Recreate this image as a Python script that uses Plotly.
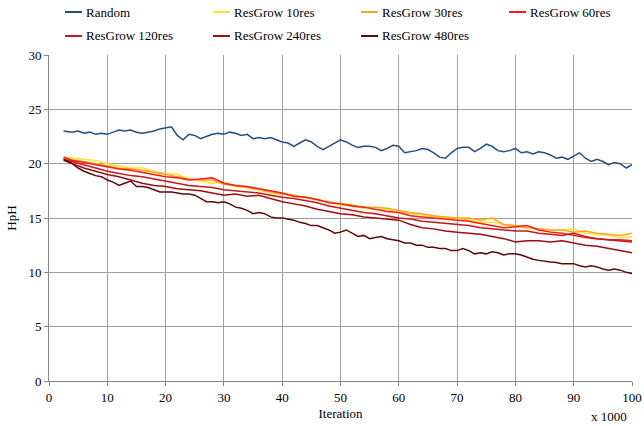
import plotly.graph_objects as go

# ---- data ----
fine_x = [2.5] + list(range(4, 101))          # iterations (x1000), 1k steps
coarse_x = [2.5] + list(range(4, 101, 2))     # iterations (x1000), 2k steps

random_y = [23.0, 22.9, 23.0, 22.8, 22.9, 22.7, 22.8, 22.7, 22.9, 23.1, 23.0, 23.1, 22.9, 22.8,
            22.9, 23.0, 23.2, 23.3, 23.4, 22.6, 22.2, 22.7, 22.6, 22.3, 22.5, 22.7, 22.8, 22.7,
            22.9, 22.8, 22.6, 22.7, 22.3, 22.4, 22.3, 22.4, 22.2, 22.0, 21.9, 21.6, 21.9, 22.2,
            22.0, 21.6, 21.3, 21.6, 21.9, 22.2, 22.0, 21.7, 21.5, 21.6, 21.6, 21.5, 21.2, 21.4,
            21.7, 21.6, 21.0, 21.1, 21.2, 21.4, 21.3, 21.0, 20.6, 20.5, 21.0, 21.4, 21.5, 21.5,
            21.1, 21.4, 21.8, 21.6, 21.2, 21.1, 21.2, 21.4, 21.0, 21.1, 20.9, 21.1, 21.0, 20.8,
            20.5, 20.6, 20.4, 20.7, 21.0, 20.5, 20.2, 20.4, 20.2, 19.9, 20.1, 20.0, 19.6, 19.9]

res480 = [20.4, 20.0, 19.6, 19.3, 19.1, 18.9, 18.8, 18.5, 18.3, 18.0, 18.2, 18.4, 17.9, 17.9,
          17.8, 17.6, 17.4, 17.4, 17.4, 17.3, 17.2, 17.2, 17.1, 16.8, 16.5, 16.5, 16.4, 16.5,
          16.3, 16.0, 15.9, 15.7, 15.4, 15.5, 15.4, 15.1, 15.0, 15.0, 14.9, 14.8, 14.6, 14.5,
          14.3, 14.3, 14.1, 13.9, 13.6, 13.7, 13.9, 13.6, 13.3, 13.4, 13.1, 13.2, 13.3, 13.1,
          13.0, 12.9, 12.7, 12.7, 12.5, 12.5, 12.3, 12.3, 12.2, 12.2, 12.0, 12.0, 12.2, 12.0,
          11.7, 11.8, 11.7, 11.9, 11.8, 11.6, 11.7, 11.7, 11.6, 11.4, 11.2, 11.1, 11.0, 10.95,
          10.9, 10.8, 10.8, 10.8, 10.6, 10.5, 10.6, 10.5, 10.3, 10.2, 10.3, 10.2, 10.0, 9.9]

res10 = [20.6, 20.5, 20.4, 20.3, 20.0, 19.8, 19.6, 19.6, 19.3, 19.1, 19.0, 18.6, 18.4, 18.2,
         18.3, 17.9, 17.8, 17.6, 17.3, 17.2, 17.0, 16.9, 16.6, 16.5, 16.2, 16.1, 15.9, 15.8,
         15.8, 15.5, 15.4, 15.3, 15.1, 15.0, 15.0, 14.8, 14.6, 14.6, 14.4, 14.2, 14.1, 14.0,
         13.8, 13.9, 14.0, 13.6, 13.5, 13.4, 13.2, 13.3]
res30 = [20.5, 20.4, 20.2, 20.0, 19.8, 19.6, 19.5, 19.4, 19.2, 19.0, 18.8, 18.6, 18.5, 18.5,
         18.1, 18.0, 17.8, 17.6, 17.4, 17.2, 17.1, 16.9, 16.7, 16.5, 16.3, 16.2, 16.0, 16.0,
         15.9, 15.7, 15.5, 15.4, 15.2, 15.1, 15.0, 15.0, 14.8, 15.0, 14.4, 14.3, 14.1, 14.0,
         13.9, 13.9, 13.7, 13.8, 13.6, 13.5, 13.4, 13.6]
res60 = [20.6, 20.3, 20.1, 19.9, 19.7, 19.5, 19.4, 19.2, 19.0, 18.8, 18.7, 18.5, 18.6, 18.7,
         18.2, 18.0, 17.9, 17.7, 17.5, 17.3, 17.0, 16.9, 16.7, 16.4, 16.3, 16.1, 16.0, 15.8,
         15.6, 15.5, 15.2, 15.1, 15.0, 14.9, 14.8, 14.7, 14.5, 14.3, 14.1, 14.2, 14.3, 13.9,
         13.7, 13.6, 13.4, 13.2, 13.1, 13.0, 13.0, 12.9]
res120 = [20.4, 20.2, 19.9, 19.6, 19.3, 19.1, 18.9, 18.8, 18.6, 18.4, 18.2, 18.0, 17.9, 17.8,
          17.6, 17.5, 17.4, 17.3, 17.1, 16.9, 16.8, 16.6, 16.4, 16.1, 15.9, 15.7, 15.5, 15.4,
          15.2, 15.0, 14.9, 14.7, 14.6, 14.5, 14.4, 14.3, 14.1, 14.0, 13.9, 13.8, 13.8, 13.6,
          13.5, 13.4, 13.6, 13.3, 13.1, 13.0, 12.9, 12.8]
res240 = [20.3, 20.0, 19.6, 19.3, 19.0, 18.8, 18.5, 18.2, 18.0, 17.9, 17.7, 17.6, 17.5, 17.3,
          17.1, 17.2, 17.0, 17.1, 16.8, 16.5, 16.3, 16.1, 15.8, 15.6, 15.4, 15.3, 15.1, 15.0,
          14.9, 14.8, 14.4, 14.1, 14.0, 13.8, 13.7, 13.6, 13.5, 13.3, 13.1, 12.8, 12.9, 12.9,
          12.8, 12.9, 12.7, 12.5, 12.4, 12.2, 12.0, 11.8]

x_ticks = [0, 10, 20, 30, 40, 50, 60, 70, 80, 90, 100]
y_ticks = [0, 5, 10, 15, 20, 25, 30]

series = [
    ("Random", fine_x, random_y, "#23507F"),
    ("ResGrow 10res", coarse_x, res10, "#FFE033"),
    ("ResGrow 30res", coarse_x, res30, "#FFA520"),
    ("ResGrow 60res", coarse_x, res60, "#FF1A1A"),
    ("ResGrow 120res", coarse_x, res120, "#C41818"),
    ("ResGrow 240res", coarse_x, res240, "#9E0E0E"),
    ("ResGrow 480res", fine_x, res480, "#5A0A0A"),
]

FONT = "Liberation Serif"

# plot-area geometry in pixels (used only to place legend entries)
W, H = 644, 426
ML, MR, MT, MB = 49, 12, 55, 45
PW, PH = W - ML - MR, H - MT - MB


def px_to_paper(px, py):
    return (px - ML) / PW, (H - MB - py) / PH


fig = go.Figure()
for name, xs, ys, col in series:
    fig.add_trace(go.Scatter(x=xs, y=ys, mode="lines", name=name, showlegend=False,
                             line=dict(color=col, width=1.5)))

# manual legend (two rows, four columns)
col_px = [65, 213, 361, 509]
row_py = [12, 36]
for i, (name, _, _, col) in enumerate(series):
    r, c = divmod(i, 4)
    x0, y0 = px_to_paper(col_px[c], row_py[r])
    x1, _ = px_to_paper(col_px[c] + 17, row_py[r])
    xt, _ = px_to_paper(col_px[c] + 19, row_py[r])
    fig.add_shape(type="line", xref="paper", yref="paper", x0=x0, x1=x1, y0=y0, y1=y0,
                  line=dict(color=col, width=2))
    fig.add_annotation(text=name, xref="paper", yref="paper", x=xt, y=y0,
                       xanchor="left", yanchor="middle", showarrow=False,
                       font=dict(family=FONT, size=13, color="black"))

fig.update_layout(
    width=W, height=H,
    margin=dict(l=ML, r=MR, t=MT, b=MB, autoexpand=False),
    paper_bgcolor="white", plot_bgcolor="white",
    font=dict(family=FONT, size=13, color="black"),
    showlegend=False,
    xaxis=dict(range=[0, 100], tickvals=x_ticks, ticktext=[str(v) for v in x_ticks],
               showgrid=True, gridcolor="#A0A0A0", gridwidth=1, automargin=False,
               showline=True, linecolor="#868686", linewidth=1,
               ticks="outside", ticklen=4, tickcolor="#868686",
               zeroline=False, title=dict(text="Iteration", standoff=5,
                                           font=dict(family=FONT, size=13))),
    yaxis=dict(range=[0, 30], tickvals=y_ticks, ticktext=[str(v) for v in y_ticks],
               showgrid=True, gridcolor="#A0A0A0", gridwidth=1, automargin=False,
               showline=True, linecolor="#868686", linewidth=1,
               ticks="outside", ticklen=4, tickcolor="#868686",
               zeroline=False, title=dict(text="HpH", standoff=8,
                                           font=dict(family=FONT, size=13))),
)

xa, ya = px_to_paper(629, 416)
fig.add_annotation(text="x 1000", xref="paper", yref="paper", x=xa, y=ya,
                   xanchor="right", yanchor="middle", showarrow=False,
                   font=dict(family=FONT, size=13, color="black"))

fig.write_html("out.html")
